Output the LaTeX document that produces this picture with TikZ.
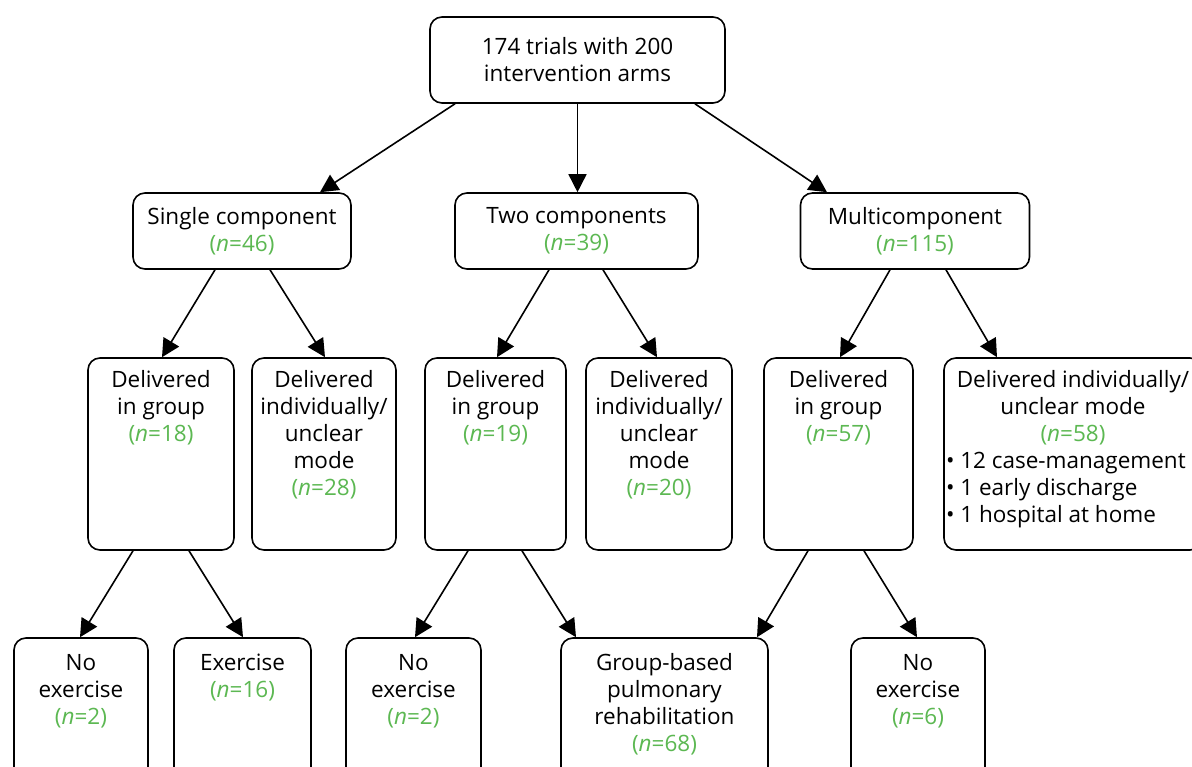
\documentclass[tikz,border=0pt]{standalone}
\usepackage{fontspec}
\setmainfont{Open Sans}
\usetikzlibrary{arrows.meta}
\definecolor{ngreen}{RGB}{92,184,82}
\newcommand{\nn}[1]{\textcolor{ngreen}{(\textit{n}=#1)}}
\newcommand{\boxtxt}[4]{\parbox[c][#2][t]{#1}{\vspace{#3}\centering\strut #4}}
\tikzset{
  box/.style={draw, rounded corners=12bp, line width=1.6bp, inner sep=0pt, align=center,
    font=\fontsize{22.5bp}{27bp}\selectfont},
  arr/.style={line width=1.6bp, -{Triangle[length=18bp,width=18bp]}}
}
\begin{document}
\begin{tikzpicture}[x=1bp,y=-1bp]
\clip (0,0) rectangle (1192,767);
\fill[white] (0,0) rectangle (1192,767);
% level 1
\node[box, minimum width=295bp, minimum height=86bp] (top) at (577.5,60) {174 trials with 200\\intervention arms};
% level 2
\node[box, minimum width=218bp, minimum height=76bp] (single) at (242,231) {Single component\\\nn{46}};
\node[box, minimum width=243bp, minimum height=76bp] (two) at (576.5,231) {Two components\\\nn{39}};
\node[box, minimum width=229bp, minimum height=76bp] (multi) at (915,231) {Multicomponent\\\nn{115}};
% level 3
\node[box] (g1) at (161,454) {\boxtxt{146bp}{192bp}{11bp}{Delivered\\in group\\\nn{18}}};
\node[box] (i1) at (324,454) {\boxtxt{144bp}{192bp}{11bp}{Delivered\\individually/\\unclear\\mode\\\nn{28}}};
\node[box] (g2) at (495.5,454) {\boxtxt{141bp}{192bp}{11bp}{Delivered\\in group\\\nn{19}}};
\node[box] (i2) at (659,454) {\boxtxt{146bp}{192bp}{11bp}{Delivered\\individually/\\unclear\\mode\\\nn{20}}};
\node[box] (g3) at (838.5,454) {\boxtxt{149bp}{192bp}{11bp}{Delivered\\in group\\\nn{57}}};
\node[box] (i3) at (1073,454) {\parbox[c][192bp][t]{258bp}{\vspace{11bp}{\centering\strut Delivered individually/\\unclear mode\\\nn{58}\par}\raggedright
  \hspace*{2bp}\mbox{\textbullet\ 12 case-management}\\
  \hspace*{2bp}\mbox{\textbullet\ 1 early discharge}\\
  \hspace*{2bp}\mbox{\textbullet\ 1 hospital at home}}};
% level 4
\node[box] (ne1) at (81,713) {\boxtxt{134bp}{150bp}{14bp}{No\\exercise\\\nn{2}}};
\node[box] (ex) at (242.5,713) {\boxtxt{137bp}{150bp}{14bp}{Exercise\\\nn{16}}};
\node[box] (ne2) at (413.5,713) {\boxtxt{135bp}{150bp}{14bp}{No\\exercise\\\nn{2}}};
\node[box] (gpr) at (664.5,713) {\boxtxt{207bp}{150bp}{14bp}{Group-based\\pulmonary\\rehabilitation\\\nn{68}}};
\node[box] (ne3) at (918,713) {\boxtxt{134bp}{150bp}{14bp}{No\\exercise\\\nn{6}}};
% arrows level 1 -> 2
\draw[arr] ([xshift=-122.5bp]top.south) -- ([xshift=78bp]single.north);
\draw[arr] (top.south) -- (top.south |- two.north);
\draw[arr] ([xshift=117.5bp]top.south) -- ([xshift=-88bp]multi.north);
% level 2 -> 3
\draw[arr] ([xshift=-27bp]single.south) -- ([xshift=1bp]g1.north);
\draw[arr] ([xshift=28bp]single.south) -- ([xshift=1bp]i1.north);
\draw[arr] ([xshift=-27.5bp]two.south) -- ([xshift=1.5bp]g2.north);
\draw[arr] ([xshift=26.5bp]two.south) -- ([xshift=-2bp]i2.north);
\draw[arr] ([xshift=-25bp]multi.south) -- ([xshift=1.5bp]g3.north);
\draw[arr] ([xshift=31bp]multi.south) -- ([xshift=-76bp]i3.north);
% level 3 -> 4
\draw[arr] ([xshift=-28bp]g1.south) -- ([xshift=-1bp]ne1.north);
\draw[arr] ([xshift=28bp]g1.south) -- ([xshift=0.5bp]ex.north);
\draw[arr] ([xshift=-27.5bp]g2.south) -- ([xshift=1.5bp]ne2.north);
\draw[arr] ([xshift=26.5bp]g2.south) -- ([xshift=-88.5bp]gpr.north);
\draw[arr] ([xshift=-30.5bp]g3.south) -- ([xshift=92.5bp]gpr.north);
\draw[arr] ([xshift=25.5bp]g3.south) -- ([xshift=-1bp]ne3.north);
\end{tikzpicture}
\end{document}
